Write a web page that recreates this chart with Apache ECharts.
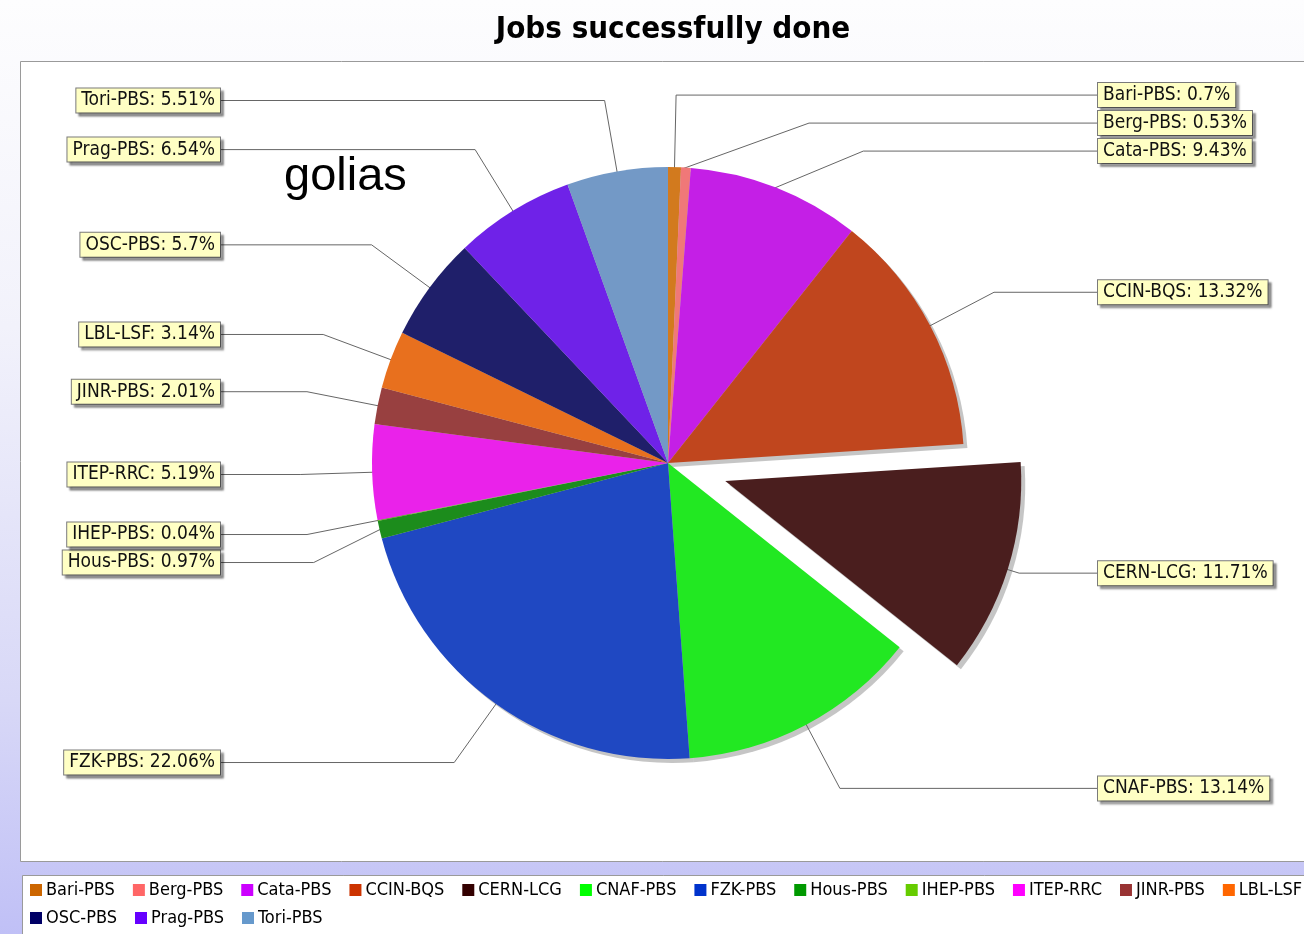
<!DOCTYPE html>
<html>
<head>
<meta charset="utf-8">
<script src="https://cdn.jsdelivr.net/npm/echarts@6/dist/echarts.min.js"></script>
<style>
  html, body { margin: 0; padding: 0; }
  body { width: 1304px; height: 934px; overflow: hidden;
         background: linear-gradient(to bottom, #fdfdfe 0%, #f2f2fb 35%, #d8d8f7 75%, #c0c0f6 100%); }
  #chart { width: 1304px; height: 934px; }
</style>
</head>
<body>
<div id="chart"></div>
<script>
// ---- data ----
const categories = ['Bari-PBS', 'Berg-PBS', 'Cata-PBS', 'CCIN-BQS', 'CERN-LCG', 'CNAF-PBS', 'FZK-PBS',
  'Hous-PBS', 'IHEP-PBS', 'ITEP-RRC', 'JINR-PBS', 'LBL-LSF', 'OSC-PBS', 'Prag-PBS', 'Tori-PBS'];
const shares = [0.7, 0.53, 9.43, 13.32, 11.71, 13.14, 22.06, 0.97, 0.04, 5.19, 2.01, 3.14, 5.7, 6.54, 5.51];
const explodedCategory = 'CERN-LCG';
const legendRow1 = categories.slice(0, 12);
const legendRow2 = categories.slice(12);
const titleText = 'Jobs successfully done';
const noteText = 'golias';

// ---- styles ----
const sliceColors = ['#d27a1e', '#f07878', '#c41fe6', '#c0461e', '#4a1e1e', '#22e822', '#1f48c2',
  '#1c8c1c', '#6cc41e', '#ea22ea', '#984040', '#e8701e', '#1f1f6a', '#6f22e8', '#7399c6'];
const legendColors = ['#cc6600', '#ff6666', '#cc00ff', '#cc3300', '#330000', '#00ff00', '#0033cc',
  '#009900', '#66cc00', '#ff00ff', '#993333', '#ff6600', '#000066', '#6600ff', '#6699cc'];
const NARROW = '"Liberation Sans Narrow", "DejaVu Sans Condensed", "Liberation Sans", sans-serif';
const SHADOW = 'rgba(90,90,90,0.35)';
const NONE = 'rgba(0,0,0,0)';

const CENTER = [668, 463];
const R = 296;
const EXPLODE = 60;             // explode distance of the pulled-out slice
const SHADOW_SHIFT = 4;
const LEFT_LABEL_RIGHT = 220;   // right edge of left-hand label boxes
const RIGHT_LABEL_LEFT = 1098;  // left edge of right-hand label boxes
const LINK_INSET = 34;          // leader lines start inside the slice

// exploded slice offset, derived from the data
const total = shares.reduce((a, b) => a + b, 0);
const explodeIdx = categories.indexOf(explodedCategory);
const before = shares.slice(0, explodeIdx).reduce((a, b) => a + b, 0);
const midRad = (before + shares[explodeIdx] / 2) / total * 2 * Math.PI;
const OFF = [Math.sin(midRad) * EXPLODE, -Math.cos(midRad) * EXPLODE];
const EXPLODED_CENTER = [CENTER[0] + OFF[0], CENTER[1] + OFF[1]];

const chart = echarts.init(document.getElementById('chart'), null, { renderer: 'canvas' });

function legendItems(names) {
  return names.map(n => ({ name: n, itemStyle: { color: legendColors[categories.indexOf(n)] } }));
}

function labelLayout(params) {
  const pts = params.labelLinePoints;
  if (!pts || pts.length < 3) return {};
  const p0 = pts[0], p2 = pts[2];
  let p1 = pts[1].slice();
  const r = params.labelRect;
  let y = r.y + r.height / 2;
  if (params.dataIndex === explodeIdx) {   // label sits where the unexploded slice would put it
    p1 = [p1[0] - OFF[0], p1[1] - OFF[1]];
    y -= OFF[1];
  }
  const dx = pts[1][0] - p0[0], dy = pts[1][1] - p0[1];
  const len = Math.hypot(dx, dy) || 1;
  const onLeft = p2[0] < pts[1][0] || (p2[0] === pts[1][0] && pts[1][0] < CENTER[0]);
  const x = onLeft ? LEFT_LABEL_RIGHT : RIGHT_LABEL_LEFT;
  p1[1] = y;
  return {
    x: x, y: y, align: onLeft ? 'right' : 'left', verticalAlign: 'middle',
    labelLinePoints: [[p0[0] - dx / len * LINK_INSET, p0[1] - dy / len * LINK_INSET], p1, [x, y]]
  };
}

// one pie layer: `visible(i)` decides which slices this layer paints
function pieLayer(center, visible, colorOf, withLabels, z) {
  return {
    type: 'pie', z: z, silent: true,
    center: center, radius: R, startAngle: 90, clockwise: true,
    avoidLabelOverlap: true,
    itemStyle: { borderWidth: 0 },
    emphasis: { disabled: true },
    label: withLabels ? {
      show: true, position: 'outside', distanceToLabelLine: 0, overflow: 'none',
      formatter: p => p.name + ': ' + p.value + '%',
      fontFamily: NARROW, fontSize: 19, color: '#111',
      backgroundColor: '#ffffc4', borderColor: '#7a7a7a', borderWidth: 1,
      padding: [3, 5, 2, 5],
      shadowColor: 'rgba(0,0,0,0.35)', shadowOffsetX: 3, shadowOffsetY: 3, shadowBlur: 2
    } : { show: false },
    labelLine: withLabels ? { show: true, length: 72, length2: 8, lineStyle: { color: '#666', width: 1 } }
                          : { show: false },
    labelLayout: withLabels ? labelLayout : undefined,
    data: categories.map((name, i) => {
      const vis = visible(i);
      const item = { name, value: shares[i], itemStyle: { color: vis ? colorOf(i) : NONE } };
      if (!vis) { item.label = { show: false }; item.labelLine = { show: false }; }
      return item;
    })
  };
}

const isExploded = i => i === explodeIdx;
const notExploded = i => i !== explodeIdx;

const option = {
  animation: false,
  backgroundColor: 'transparent',
  title: {
    text: titleText, left: 668, top: 9, textAlign: 'center',
    textStyle: { fontFamily: NARROW, fontWeight: 'bold', fontSize: 31, color: '#000' }
  },
  graphic: [
    { type: 'rect', z: -5, shape: { x: 20.5, y: 61.5, width: 1300, height: 800 },
      style: { fill: '#ffffff', stroke: '#9a9a9a', lineWidth: 1 } },
    { type: 'rect', z: -5, shape: { x: 22.5, y: 875.5, width: 1300, height: 80 },
      style: { fill: '#ffffff', stroke: '#9a9a9a', lineWidth: 1 } },
    { type: 'text', z: 10, x: 284, y: 177,
      style: { text: noteText, font: '47px "Liberation Sans", Arial, sans-serif', fill: '#000',
               verticalAlign: 'middle', align: 'left' } }
  ],
  legend: [
    { data: legendItems(legendRow1), left: 30, top: 881, padding: 0, itemGap: 18,
      itemWidth: 12, itemHeight: 12, icon: 'rect', selectedMode: false, width: 1400,
      textStyle: { fontFamily: NARROW, fontSize: 18, color: '#000', padding: [0, 0, 0, -1], lineHeight: 18 } },
    { data: legendItems(legendRow2), left: 30, top: 909, padding: 0, itemGap: 18,
      itemWidth: 12, itemHeight: 12, icon: 'rect', selectedMode: false,
      textStyle: { fontFamily: NARROW, fontSize: 18, color: '#000', padding: [0, 0, 0, -1], lineHeight: 18 } }
  ],
  series: [
    pieLayer([CENTER[0] + SHADOW_SHIFT, CENTER[1] + SHADOW_SHIFT], notExploded, () => SHADOW, false, 1),
    pieLayer([EXPLODED_CENTER[0] + SHADOW_SHIFT, EXPLODED_CENTER[1] + SHADOW_SHIFT], isExploded, () => SHADOW, false, 1),
    pieLayer(CENTER, notExploded, i => sliceColors[i], true, 2),
    pieLayer(EXPLODED_CENTER, isExploded, i => sliceColors[i], true, 2)
  ]
};
chart.setOption(option);
</script>
</body>
</html>
